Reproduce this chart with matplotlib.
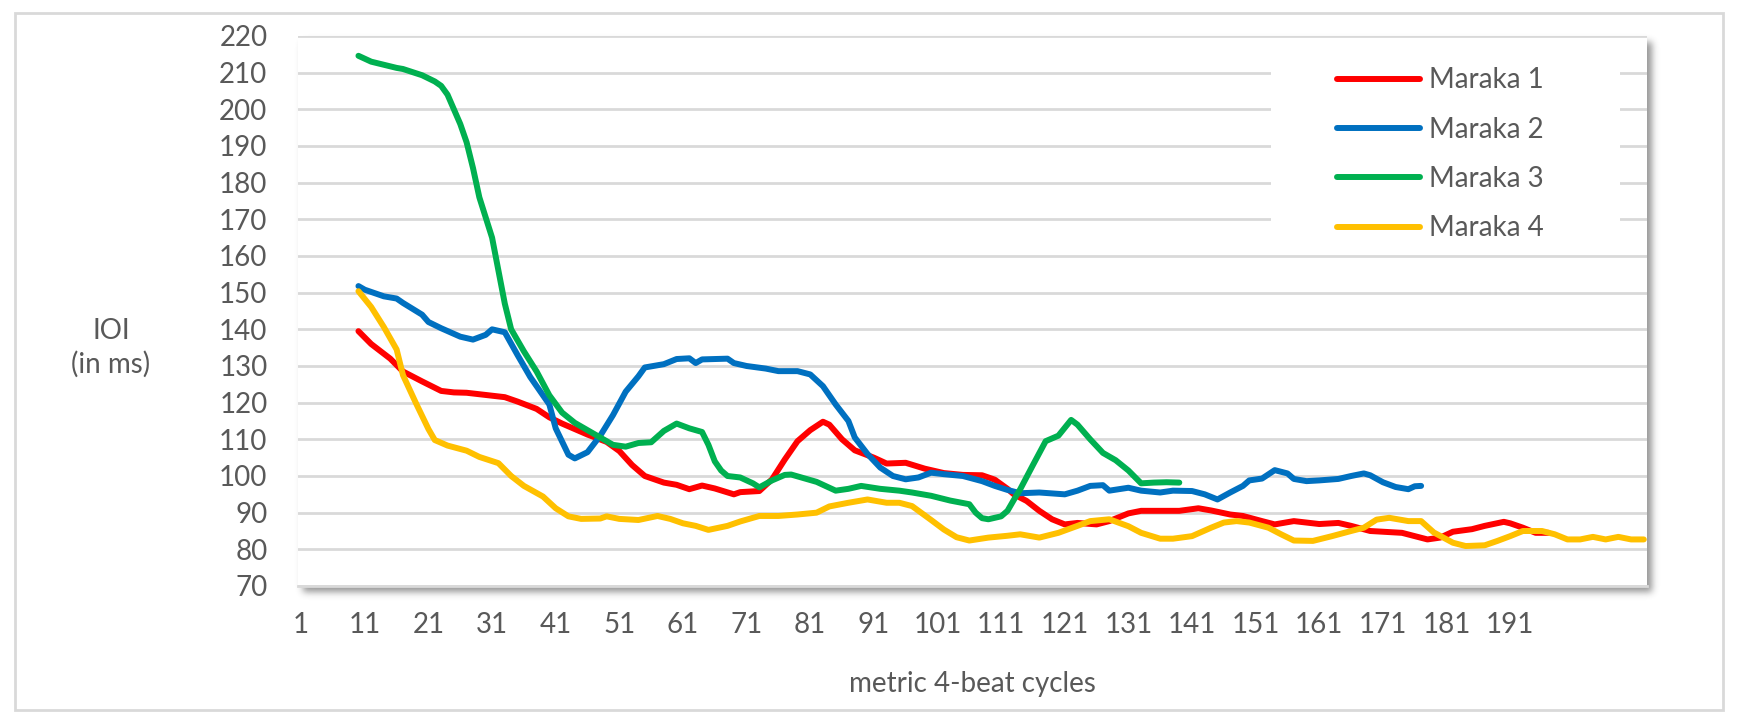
import numpy as np
import matplotlib
matplotlib.use("Agg")
import matplotlib.pyplot as plt
from matplotlib.patches import Rectangle

# ---------------- data ----------------
series_names = ["Maraka 1", "Maraka 2", "Maraka 3", "Maraka 4"]

maraka1 = [(10, 139.5), (12, 136), (15, 132), (17, 128.5), (20, 125.8), (23, 123.2), (25, 122.8),
           (27, 122.7), (29, 122.3), (33, 121.5), (35, 120.3), (38, 118.3), (40, 116), (42, 114.3),
           (44, 112.8), (46, 111.3), (49, 109.3), (51, 106.8), (53, 103), (55, 100), (58, 98.2),
           (60, 97.6), (62, 96.4), (64, 97.4), (66, 96.6), (69, 95), (70, 95.6), (73, 95.9),
           (75, 99.1), (77, 104.5), (79, 109.5), (81, 112.5), (83, 114.8), (84, 114), (86, 110),
           (88, 107), (91, 105), (93, 103.4), (96, 103.6), (99, 102), (102, 100.8), (105, 100.3),
           (108, 100.2), (110, 99), (112, 96.5), (113, 95), (115, 93.2), (117, 90.5), (119, 88.2),
           (121, 86.8), (123, 87.2), (126, 86.8), (128, 87.7), (131, 89.8), (133, 90.5), (136, 90.5),
           (139, 90.5), (142, 91.2), (144, 90.6), (147, 89.5), (149, 89.1), (152, 87.7), (154, 86.8),
           (157, 87.7), (159, 87.3), (161, 86.9), (164, 87.2), (166, 86.4), (169, 85), (171, 84.8),
           (174, 84.5), (176, 83.6), (178, 82.7), (180, 83.2), (182, 84.8), (185, 85.5), (187, 86.4),
           (190, 87.5), (191, 87.1), (193, 85.9), (195, 84.5), (197, 84.5)]

maraka2 = [(10, 151.8), (11, 150.8), (14, 149), (16, 148.4), (17, 147.2), (20, 144), (21, 142),
           (23, 140.3), (26, 138), (28, 137.2), (30, 138.5), (31, 140), (33, 139.2), (35, 133),
           (37, 127), (40, 119.5), (41, 113), (43, 105.8), (44, 104.8), (46, 106.5), (48, 111),
           (50, 116.6), (52, 123), (54, 127.2), (55, 129.6), (58, 130.5), (60, 131.9), (62, 132.1),
           (63, 130.8), (64, 131.8), (68, 132), (69, 130.8), (71, 130), (74, 129.3), (76, 128.6),
           (79, 128.6), (81, 127.7), (83, 124.5), (85, 119.5), (87, 115), (88, 110.5), (90, 106),
           (92, 102.3), (94, 100), (96, 99.1), (98, 99.6), (100, 100.9), (102, 100.5), (105, 100),
           (108, 98.6), (110, 97.3), (112, 96.2), (114, 95.3), (117, 95.5), (121, 95), (123, 96),
           (125, 97.3), (127, 97.5), (128, 96), (131, 96.8), (133, 96), (136, 95.5), (138, 96),
           (141, 95.9), (143, 95), (145, 93.6), (147, 95.5), (149, 97.3), (150, 98.8), (152, 99.3),
           (154, 101.6), (156, 100.7), (157, 99.2), (159, 98.6), (161, 98.8), (164, 99.2),
           (166, 100), (168, 100.7), (169, 100.2), (171, 98.3), (173, 97), (175, 96.4),
           (176, 97.2), (177, 97.3)]

maraka3 = [(10, 214.6), (12, 213), (16, 211.3), (17, 211), (20, 209.3), (22, 207.6), (23, 206.4),
           (24, 204), (25, 200), (26, 196), (27, 191), (28, 184), (29, 176), (31, 165), (32, 156),
           (33, 147), (34, 140), (36, 134), (38, 128.5), (40, 122), (42, 117.3), (44, 114.5),
           (47, 111.5), (50, 108.5), (52, 108), (54, 109), (56, 109.2), (58, 112.3), (60, 114.3),
           (62, 113), (64, 112), (65, 108.5), (66, 104), (67, 101.5), (68, 100), (70, 99.6),
           (72, 98), (73, 96.9), (75, 98.8), (77, 100.3), (78, 100.4), (80, 99.4), (82, 98.4),
           (85, 96), (87, 96.5), (89, 97.3), (92, 96.5), (95, 96), (97, 95.5), (100, 94.6),
           (103, 93.3), (106, 92.3), (107, 90), (108, 88.5), (109, 88.2), (111, 89), (112, 90.5),
           (113, 93.5), (114, 96.4), (116, 103), (118, 109.5), (120, 111), (122, 115.3), (123, 114),
           (125, 110), (127, 106.3), (129, 104.3), (131, 101.5), (133, 98), (135, 98.2), (137, 98.3),
           (139, 98.2)]

maraka4 = [(10, 150.4), (12, 146.1), (14, 140.6), (16, 134.5), (17, 127.5), (19, 120), (21, 112.8),
           (22, 109.8), (24, 108.3), (27, 106.9), (29, 105.2), (32, 103.5), (34, 100), (36, 97.3),
           (39, 94.4), (41, 91.2), (43, 89), (45, 88.3), (48, 88.4), (49, 89), (51, 88.3), (54, 88),
           (57, 89.1), (59, 88.3), (61, 87.1), (63, 86.4), (65, 85.3), (68, 86.4), (70, 87.6),
           (73, 89.1), (76, 89.1), (79, 89.5), (82, 90), (84, 91.7), (87, 92.7), (90, 93.6),
           (93, 92.7), (95, 92.7), (97, 91.8), (100, 88), (102, 85.4), (104, 83.3), (106, 82.4),
           (109, 83.2), (112, 83.7), (114, 84.1), (116, 83.5), (117, 83.2), (120, 84.5), (123, 86.4),
           (125, 87.7), (128, 88.2), (131, 86.3), (133, 84.5), (136, 82.9), (138, 82.9), (141, 83.6),
           (144, 85.9), (146, 87.3), (148, 87.7), (150, 87.3), (153, 85.9), (155, 84.1), (157, 82.4),
           (160, 82.3), (163, 83.6), (166, 85), (168, 85.9), (170, 88.1), (172, 88.6), (175, 87.7),
           (177, 87.7), (179, 84.6), (182, 81.8), (184, 80.9), (187, 81.1), (189, 82.3), (191, 83.6),
           (193, 85), (196, 85), (198, 84.1), (200, 82.7), (202, 82.7), (204, 83.4), (206, 82.7),
           (208, 83.4), (210, 82.7), (212, 82.7)]

n_categories = 212
x_tick_labels = list(range(1, 192, 10))
y_ticks = list(range(70, 221, 10))
x_title = "metric 4-beat cycles"
y_title = "IOI\n(in ms)"

# ---------------- styling ----------------
colors = ["#FF0000", "#0070C0", "#00B050", "#FFC000"]
grid_col = "#D9D9D9"
text_col = "#595959"
FONT = "Lato"
FS = 20

W, H = 1738, 719
fig = plt.figure(figsize=(W / 100, H / 100), dpi=100)
fig.patch.set_facecolor("white")

# plot area in pixels
L, R, T, B = 298, 1647, 36, 586
ax = fig.add_axes([L / W, 1 - B / H, (R - L) / W, (B - T) / H])
ax.set_zorder(1)
ax.set_facecolor("white")

# outer chart frame
fig.patches.append(Rectangle((15 / W, 1 - 710 / H), (1723 - 15) / W, (710 - 13) / H,
                             transform=fig.transFigure, fill=False,
                             edgecolor=grid_col, linewidth=2.0, zorder=0))

# soft shadow of the plot area (bottom/right)
def profile(n, a, b, sigma):
    t = np.arange(n)
    ind = ((t >= a) & (t < b)).astype(float)
    k = np.arange(-int(4 * sigma), int(4 * sigma) + 1)
    ker = np.exp(-k ** 2 / (2 * sigma ** 2))
    ker /= ker.sum()
    return np.convolve(ind, ker, mode="same")

dx, dy, sig = 5, 6, 3.5
py = profile(H, T + dy, B + dy, sig)
px = profile(W, L + dx, R + dx, sig)
blur = np.outer(py, px)
rgba = np.zeros((H, W, 4))
rgba[..., :3] = 0.25
rgba[..., 3] = 0.55 * blur
fig.figimage(rgba, xo=0, yo=0, origin="upper", zorder=0.5)

for data, name, col in zip([maraka1, maraka2, maraka3, maraka4], series_names, colors):
    xs = [p[0] for p in data]
    ys = [p[1] for p in data]
    ax.plot(xs, ys, color=col, linewidth=4.3, solid_capstyle="round",
            solid_joinstyle="round", label=name, zorder=3)

ax.set_xlim(0.5, n_categories + 0.5)
ax.set_ylim(70, 220)
ax.set_yticks(y_ticks)
ax.set_xticks(x_tick_labels)
ax.set_xticklabels([str(v) for v in x_tick_labels])
ax.set_axisbelow(True)
ax.grid(axis="y", color=grid_col, linewidth=2.0)
ax.grid(axis="x", visible=False)
for s in ["left", "right", "top"]:
    ax.spines[s].set_visible(False)
ax.spines["bottom"].set_color(grid_col)
ax.spines["bottom"].set_linewidth(2.0)
ax.tick_params(axis="both", length=0, labelsize=FS, labelcolor=text_col)
ax.tick_params(axis="y", pad=22)
ax.tick_params(axis="x", pad=19)
for lab in ax.get_xticklabels() + ax.get_yticklabels():
    lab.set_fontfamily(FONT)

# white area behind the legend (hides gridlines)
ax.add_patch(Rectangle((1271 / W, 1 - 250 / H), (1620 - 1271) / W, (250 - 45) / H,
                       transform=fig.transFigure, facecolor="white", edgecolor="none",
                       zorder=1.5))

leg = ax.legend(loc="upper left", bbox_to_anchor=(1337 / W, 1 - 67.5 / H),
                bbox_transform=fig.transFigure, frameon=False, borderpad=0,
                borderaxespad=0, handlelength=3.0, handletextpad=0.3,
                labelspacing=0.84, prop={"family": FONT, "size": FS})
for t in leg.get_texts():
    t.set_color(text_col)
for h in leg.get_lines():
    h.set_linewidth(4.3)
    h.set_solid_capstyle("round")

fig.text(111 / W, 1 - 348 / H, y_title, ha="center", va="center", fontsize=FS,
         family=FONT, color=text_col, linespacing=1.3)
fig.text((L + R) / 2 / W, 1 - 684 / H, x_title, ha="center", va="center", fontsize=FS,
         family=FONT, color=text_col)

fig.savefig("out.png", dpi=100, facecolor="white")
